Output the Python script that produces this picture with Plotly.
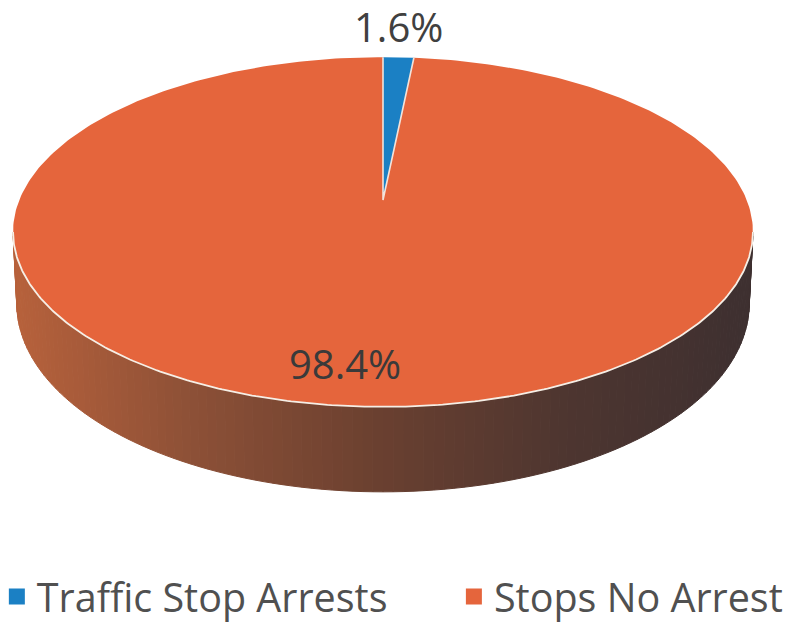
import numpy as np
import plotly.graph_objects as go

categories = ["Traffic Stop Arrests", "Stops No Arrest"]
values = [1.6, 98.4]
colors = ["#1b80c4", "#e5653c"]

W, H = 788, 625
CX, APEX_Y = 383, 200
A, B, K = 363.7, 169.0, 0.183
SIDE_STOPS = [(0.0, (184, 98, 60)), (0.25, (140, 80, 55)), (0.5, (106, 64, 48)),
              (0.75, (78, 54, 48)), (1.0, (62, 48, 48))]


def top(theta):
    d = 1 + K * np.cos(theta)
    return CX + A * np.sin(theta) / d, APEX_Y - B * np.cos(theta) / d


def lower(theta):
    x, y = top(theta)
    depth = 68 + 17 * np.clip(-np.cos(theta) / 1.0, 0, 1)
    return CX + (x - CX) * 0.99, y + depth


def side_colour(t):
    xs = [s[0] for s in SIDE_STOPS]
    rgb = [np.interp(t, xs, [s[1][i] for s in SIDE_STOPS]) for i in range(3)]
    return "rgb(%d,%d,%d)" % tuple(rgb)


fig = go.Figure()

# side wall, drawn as thin strips along the visible front rim
th_right = np.arccos(-K)
th_left = 2 * np.pi - th_right
edges = np.linspace(th_right, th_left, 121)
for a0, a1 in zip(edges[:-1], edges[1:]):
    ts = np.linspace(a0, a1, 3)
    x1, y1 = top(ts)
    x2, y2 = lower(ts)
    c = side_colour((np.mean(x1) - 12) / 740)
    fig.add_trace(go.Scatter(
        x=np.r_[x1, x2[::-1], x1[0]], y=np.r_[y1, y2[::-1], y1[0]],
        mode="lines", fill="toself", fillcolor=c, line=dict(color=c, width=1),
        hoverinfo="skip", showlegend=False))

# top face: slices from the values
cum = np.cumsum([0] + values) / sum(values) * 2 * np.pi
for i, name in enumerate(categories):
    ts = np.linspace(cum[i], cum[i + 1], 361)
    x, y = top(ts)
    fig.add_trace(go.Scatter(
        x=np.r_[CX, x, CX], y=np.r_[APEX_Y, y, APEX_Y], mode="lines", fill="toself",
        fillcolor=colors[i], line=dict(color=colors[i], width=0),
        hoverinfo="skip", showlegend=False))

# white hairlines on the wedge and the front rim
ts = np.linspace(cum[0], cum[1], 20)
x, y = top(ts)
fig.add_trace(go.Scatter(x=[x[0], CX, x[-1]], y=[y[0], APEX_Y, y[-1]], mode="lines",
                         line=dict(color="#f3e3da", width=1.6), hoverinfo="skip", showlegend=False))
x, y = top(np.linspace(th_right, th_left, 300))
fig.add_trace(go.Scatter(x=x, y=y, mode="lines", line=dict(color="#f6efe6", width=1.8),
                         hoverinfo="skip", showlegend=False))

# legend entries, one legend box per category
legend_ids = ["legend", "legend2"]
for i, name in enumerate(categories):
    fig.add_trace(go.Scatter(x=[None], y=[None], mode="markers", name=name, legend=legend_ids[i],
                             marker=dict(symbol="square", size=20, color=colors[i])))

fig.add_annotation(x=398, y=26, text=f"{values[0]}%", showarrow=False,
                   font=dict(family="Open Sans", size=40, color="#404040"))
fig.add_annotation(x=345, y=363, text=f"{values[1]}%", showarrow=False,
                   font=dict(family="Open Sans", size=40, color="#3a3a3a"))

legend_style = dict(orientation="v", yanchor="middle", xanchor="left", y=0.045,
                    font=dict(family="Open Sans", size=39.5, color="#505050"),
                    itemwidth=30, bgcolor="rgba(0,0,0,0)")
fig.update_layout(
    width=W, height=H, margin=dict(l=0, r=0, t=0, b=0, autoexpand=False),
    paper_bgcolor="white", plot_bgcolor="white",
    xaxis=dict(range=[0, W], visible=False, fixedrange=True),
    yaxis=dict(range=[H, 0], visible=False, fixedrange=True),
    legend=dict(x=-0.004, **legend_style),
    legend2=dict(x=0.576, **legend_style),
)
fig.write_html("out.html", config={"displayModeBar": False},
               post_script="document.body.style.margin='0';document.body.style.overflow='hidden';")
